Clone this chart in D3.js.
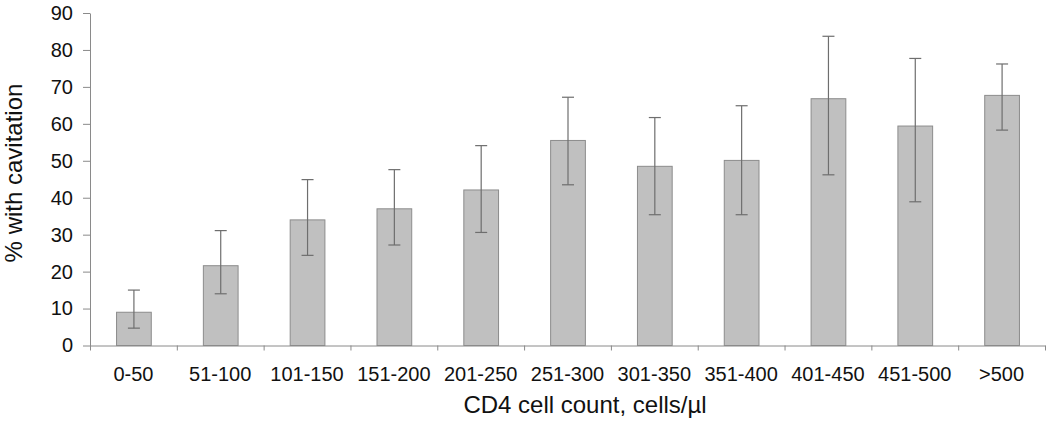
<!DOCTYPE html>
<html>
<head>
<meta charset="utf-8">
<script src="https://cdn.jsdelivr.net/npm/d3@7"></script>
<style>
  html, body { margin: 0; padding: 0; background: #fff; }
  svg { display: block; }
  text { font-family: "Liberation Sans", Arial, sans-serif; fill: #111; }
</style>
</head>
<body>
<svg id="chart" width="1050" height="422"></svg>
<script>
const categories = ["0-50","51-100","101-150","151-200","201-250","251-300","301-350","351-400","401-450","451-500",">500"];
const values     = [9.0, 21.6, 34.0, 37.0, 42.1, 55.5, 48.5, 50.1, 66.8, 59.4, 67.7];
const errLow     = [4.7, 14.0, 24.4, 27.2, 30.6, 43.5, 35.4, 35.4, 46.2, 38.9, 58.3];
const errHigh    = [15.0, 31.1, 44.9, 47.6, 54.1, 67.2, 61.7, 64.9, 83.7, 77.7, 76.2];
const yTicks     = [0,10,20,30,40,50,60,70,80,90];
const xTitle = "CD4 cell count, cells/\u00b5l";
const yTitle = "% with cavitation";

const svg = d3.select("#chart");
const mLeft = 90, mRight = 1045, mTop = 13, mBottom = 345.5;

const x = d3.scaleBand().domain(categories).range([mLeft, mRight]).paddingInner(0.6).paddingOuter(0.3);
const xEdge = d3.scaleLinear().domain([0, categories.length]).range([mLeft, mRight]);
const y = d3.scaleLinear().domain([0, 90]).range([mBottom, mTop]);

const axisColor = "#8a8a8a";

// bars
svg.append("g").selectAll("rect").data(categories).join("rect")
  .attr("x", d => x(d) + 0.5)
  .attr("y", (d, i) => y(values[i]))
  .attr("width", x.bandwidth())
  .attr("height", (d, i) => mBottom - y(values[i]))
  .attr("fill", "#c0c0c0")
  .attr("stroke", "#8c8c8c")
  .attr("stroke-width", 1);

// error bars
const eg = svg.append("g").attr("stroke", "#6e6e6e").attr("stroke-width", 1.2);
categories.forEach((c, i) => {
  const cx = x(c) + x.bandwidth() / 2 + 0.5;
  eg.append("line").attr("x1", cx).attr("x2", cx).attr("y1", y(errLow[i])).attr("y2", y(errHigh[i]));
  eg.append("line").attr("x1", cx - 6).attr("x2", cx + 6).attr("y1", y(errLow[i])).attr("y2", y(errLow[i]));
  eg.append("line").attr("x1", cx - 6).attr("x2", cx + 6).attr("y1", y(errHigh[i])).attr("y2", y(errHigh[i]));
});

// y axis
const yAxis = svg.append("g").attr("transform", `translate(${mLeft},0)`)
  .call(d3.axisLeft(y).tickValues(yTicks).tickSize(7).tickPadding(10).tickSizeOuter(0));
yAxis.select(".domain").attr("stroke", axisColor);
yAxis.selectAll(".tick line").attr("stroke", axisColor);
yAxis.selectAll(".tick text").attr("font-size", 20).attr("fill", "#111")
  .attr("font-family", "Liberation Sans, Arial, sans-serif");

// x axis boundary ticks
const xAxisEdge = svg.append("g").attr("transform", `translate(0,${mBottom})`)
  .call(d3.axisBottom(xEdge).tickValues(d3.range(categories.length + 1)).tickFormat("").tickSize(5).tickSizeOuter(0));
xAxisEdge.select(".domain").attr("stroke", axisColor);
xAxisEdge.selectAll(".tick line").attr("stroke", axisColor);

// x labels
const xAxisLab = svg.append("g").attr("transform", `translate(0,${mBottom})`)
  .call(d3.axisBottom(x).tickSize(0).tickPadding(21));
xAxisLab.select(".domain").remove();
xAxisLab.selectAll(".tick text").attr("font-size", 20).attr("fill", "#111")
  .attr("font-family", "Liberation Sans, Arial, sans-serif");

// titles
svg.append("text").attr("x", 585).attr("y", 413).attr("text-anchor", "middle")
  .attr("font-size", 24).text(xTitle);
svg.append("text").attr("transform", "translate(22,173) rotate(-90)").attr("text-anchor", "middle")
  .attr("font-size", 24).text(yTitle);
</script>
</body>
</html>
